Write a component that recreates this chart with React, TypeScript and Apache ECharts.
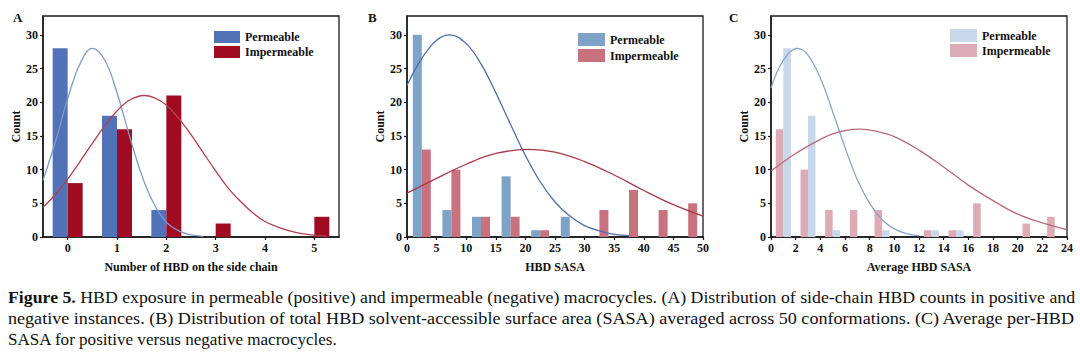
import React, { useEffect, useRef } from "react";
import * as echarts from "echarts";

// ---------- Data ----------
// Panel A: Number of HBD on the side chain
const A_BINS = [0, 1, 2, 3, 4, 5];
const A_PERM = [28, 18, 4, 0, 0, 0];
const A_IMP = [8, 16, 21, 2, 0, 3];
const A_PERM_FIT_X = [-0.5, -0.25, 0, 0.25, 0.5, 0.75, 1, 1.25, 1.5, 1.75, 2, 2.25, 2.5, 2.75];
const A_PERM_FIT_Y = [8.4, 14.1, 20.5, 25.7, 28.0, 26.3, 21.4, 15.1, 9.2, 4.9, 2.2, 0.9, 0.3, 0.1];
const A_IMP_FIT_X = [-0.5, -0.25, 0, 0.25, 0.5, 0.75, 1, 1.25, 1.55, 1.75, 2, 2.25, 2.5, 2.75, 3, 3.25, 3.5, 3.75, 4, 4.25, 4.5, 4.75, 5, 5.25];
const A_IMP_FIT_Y = [4.4, 6.3, 8.6, 11.2, 13.9, 16.5, 18.7, 20.3, 21.0, 20.7, 19.6, 17.6, 15.2, 12.5, 9.8, 7.3, 5.3, 3.6, 2.3, 1.5, 0.9, 0.5, 0.27, 0.14];

// Panel B: HBD SASA (bin centres)
const B_BINS = [2.5, 7.5, 12.5, 17.5, 22.5, 27.5, 32.5, 37.5, 42.5, 47.5];
const B_PERM = [30, 4, 3, 9, 1, 3, 0, 0, 0, 0];
const B_IMP = [13, 10, 3, 3, 1, 0, 4, 7, 4, 5];
const B_PERM_FIT_X = [0, 2.5, 5, 7.2, 10, 12.5, 15, 17.5, 20, 22.5, 25, 27.5, 30, 32.5, 35, 37.5];
const B_PERM_FIT_Y = [22.5, 26.5, 29.2, 30.0, 28.7, 25.7, 21.4, 16.7, 12.1, 8.2, 5.2, 3.1, 1.7, 0.9, 0.4, 0.2];
const B_IMP_FIT_X = [0, 5, 10, 15, 20.5, 25, 30, 35, 40, 45, 50];
const B_IMP_FIT_Y = [6.5, 8.7, 10.8, 12.4, 13.0, 12.6, 11.2, 9.2, 6.9, 4.8, 3.1];

// Panel C: Average HBD SASA (bin centres)
const C_BINS = [1, 3, 5, 7, 9, 11, 13, 15, 17, 19, 21, 23];
const C_PERM = [28, 18, 1, 0, 1, 0, 1, 1, 0, 0, 0, 0];
const C_IMP = [16, 10, 4, 4, 4, 0, 1, 1, 5, 0, 2, 3];
const C_PERM_FIT_X = [0, 1, 2.15, 3, 4, 5, 6, 7, 8, 9, 10, 11, 12];
const C_PERM_FIT_Y = [22.1, 26.2, 28.0, 27.0, 23.6, 18.6, 13.3, 8.5, 5.0, 2.6, 1.2, 0.5, 0.2];
const C_IMP_FIT_X = [0, 2, 4, 5, 6, 7.2, 8.5, 10, 12, 14, 16, 18, 20, 22, 24];
const C_IMP_FIT_Y = [9.8, 12.4, 14.5, 15.3, 15.8, 16.0, 15.7, 14.9, 12.9, 10.4, 7.7, 5.4, 3.4, 2.1, 1.1];

const Y_TICKS = [0, 5, 10, 15, 20, 25, 30];
const A_X_TICKS = [0, 1, 2, 3, 4, 5];

const PANEL_LETTERS = ["A", "B", "C"];
const X_TITLES = ["Number of HBD on the side chain", "HBD SASA", "Average HBD SASA"];
const Y_TITLE = "Count";
const SERIES_NAMES = ["Permeable", "Impermeable"];

const CAPTION_BOLD = "Figure 5.";
const CAPTION_LINES = [
  "HBD exposure in permeable (positive) and impermeable (negative) macrocycles. (A) Distribution of side-chain HBD counts in positive and",
  "negative instances. (B) Distribution of total HBD solvent-accessible surface area (SASA) averaged across 50 conformations. (C) Average per-HBD",
  "SASA for positive versus negative macrocycles.",
];

// ---------- Styles ----------
const SERIF = "'Liberation Serif', 'Times New Roman', serif";
const COLORS = {
  A: { perm: "#5272b8", imp: "#a00b22", permFit: "#7f9cc8", impFit: "#b0404f" },
  B: { perm: "#7ea3c6", imp: "#c9727f", permFit: "#4d6ea8", impFit: "#a83848" },
  C: { perm: "#c8d7ea", imp: "#dcabb5", permFit: "#8aa4c8", impFit: "#b56b78" },
};

const zip = (xs: number[], ys: number[]) => xs.map((x, i) => [x, ys[i]]);

function measure(text: string, font: string): number {
  const ctx = document.createElement("canvas").getContext("2d");
  if (!ctx) return text.length * 7;
  ctx.font = font;
  return ctx.measureText(text).width;
}

export default function App() {
  const ref = useRef<HTMLDivElement>(null);

  useEffect(() => {
    if (!ref.current) return;
    const chart = echarts.init(ref.current, null, { renderer: "svg" });

    const grids = [
      { left: 43, top: 16, width: 296, height: 221 },
      { left: 407, top: 16, width: 296, height: 221 },
      { left: 771, top: 16, width: 296, height: 221 },
    ].map((g) => ({ ...g, show: true, borderColor: "#1a1a1a", borderWidth: 1.3, backgroundColor: "#fff" }));

    const axisCommon = {
      axisLine: { show: true, onZero: false, lineStyle: { color: "#1a1a1a", width: 1.5 } },
      axisTick: { show: true, inside: false, length: 3, lineStyle: { color: "#1a1a1a", width: 1.2 } },
      splitLine: { show: false },
      axisLabel: { color: "#111", fontFamily: SERIF, fontWeight: "bold" as const, fontSize: 12, margin: 5 },
      nameTextStyle: { color: "#111", fontFamily: SERIF, fontWeight: "bold" as const, fontSize: 12 },
    };

    const xRanges = [
      { min: -0.5, max: 5.5, interval: 1, custom: A_X_TICKS },
      { min: 0, max: 50, interval: 5, custom: null },
      { min: 0, max: 24, interval: 2, custom: null },
    ];

    const xAxis = xRanges.map((r, i) => ({
      type: "value" as const,
      gridIndex: i,
      min: r.min,
      max: r.max,
      interval: r.interval,
      name: X_TITLES[i],
      nameLocation: "middle" as const,
      nameGap: 24,
      ...axisCommon,
      axisTick: { ...axisCommon.axisTick, ...(r.custom ? { customValues: r.custom } : {}) },
      axisLabel: { ...axisCommon.axisLabel, ...(r.custom ? { customValues: r.custom } : {}) },
    }));

    const yAxis = [0, 1, 2].map((i) => ({
      type: "value" as const,
      gridIndex: i,
      min: 0,
      max: 32.8,
      interval: 5,
      name: Y_TITLE,
      nameLocation: "middle" as const,
      nameGap: 20,
      ...axisCommon,
      axisTick: { ...axisCommon.axisTick, customValues: Y_TICKS },
      axisLabel: {
        ...axisCommon.axisLabel,
        customValues: Y_TICKS,
        formatter: (v: number) => (v % 5 === 0 ? String(v) : ""),
      },
    }));

    const bar = (name: string, idx: number, xs: number[], ys: number[], color: string, width: number) => ({
      type: "bar" as const,
      name,
      xAxisIndex: idx,
      yAxisIndex: idx,
      data: zip(xs, ys),
      barWidth: width,
      barGap: "0%",
      itemStyle: { color },
      emphasis: { disabled: true },
    });
    const fit = (name: string, idx: number, xs: number[], ys: number[], color: string) => ({
      type: "line" as const,
      name,
      xAxisIndex: idx,
      yAxisIndex: idx,
      data: zip(xs, ys),
      smooth: 0.4,
      showSymbol: false,
      symbol: "none",
      lineStyle: { color, width: 1.3 },
      z: 5,
      emphasis: { disabled: true },
    });

    const series = [
      bar(SERIES_NAMES[0], 0, A_BINS, A_PERM, COLORS.A.perm, 15),
      bar(SERIES_NAMES[1], 0, A_BINS, A_IMP, COLORS.A.imp, 15),
      fit("Permeable fit A", 0, A_PERM_FIT_X, A_PERM_FIT_Y, COLORS.A.permFit),
      fit("Impermeable fit A", 0, A_IMP_FIT_X, A_IMP_FIT_Y, COLORS.A.impFit),
      bar(SERIES_NAMES[0], 1, B_BINS, B_PERM, COLORS.B.perm, 9),
      bar(SERIES_NAMES[1], 1, B_BINS, B_IMP, COLORS.B.imp, 9),
      fit("Permeable fit B", 1, B_PERM_FIT_X, B_PERM_FIT_Y, COLORS.B.permFit),
      fit("Impermeable fit B", 1, B_IMP_FIT_X, B_IMP_FIT_Y, COLORS.B.impFit),
      bar(SERIES_NAMES[1], 2, C_BINS, C_IMP, COLORS.C.imp, 7.5),
      bar(SERIES_NAMES[0], 2, C_BINS, C_PERM, COLORS.C.perm, 7.5),
      fit("Permeable fit C", 2, C_PERM_FIT_X, C_PERM_FIT_Y, COLORS.C.permFit),
      fit("Impermeable fit C", 2, C_IMP_FIT_X, C_IMP_FIT_Y, COLORS.C.impFit),
    ];

    const legendText = { color: "#111", fontFamily: SERIF, fontWeight: "bold" as const, fontSize: 12 };
    const legendPos = [
      { left: 214, top: 31, w: 26, h: 12, gap: 3, c: COLORS.A },
      { left: 578, top: 33, w: 27, h: 13, gap: 3, c: COLORS.B },
      { left: 950, top: 29, w: 27, h: 13, gap: 2, c: COLORS.C },
    ];
    const legend = legendPos.map((p) => ({
      left: p.left,
      top: p.top,
      orient: "vertical" as const,
      itemWidth: p.w,
      itemHeight: p.h,
      itemGap: p.gap,
      padding: 0,
      icon: "rect",
      selectedMode: false,
      textStyle: legendText,
      data: [
        { name: SERIES_NAMES[0], icon: "rect", itemStyle: { color: p.c.perm } },
        { name: SERIES_NAMES[1], icon: "rect", itemStyle: { color: p.c.imp } },
      ],
    }));

    // Caption
    const capSize = 16;
    const boldFont = `bold ${capSize}px ${SERIF}`;
    const normFont = `${capSize}px ${SERIF}`;
    const boldW = measure(CAPTION_BOLD + " ", boldFont);
    const lineTargets = [1067, 1067, 330];
    const baselines = [303, 324, 345];
    const captionEls = CAPTION_LINES.map((line, i) => {
      const first = i === 0;
      const natural = (first ? boldW : 0) + measure(line, normFont);
      const sx = lineTargets[i] / natural;
      const children: any[] = [];
      if (first) {
        children.push({
          type: "text",
          x: 0,
          y: 0,
          style: { text: CAPTION_BOLD, font: boldFont, fill: "#111", verticalAlign: "middle", align: "left" },
        });
      }
      children.push({
        type: "text",
        x: first ? boldW : 0,
        y: 0,
        style: { text: line, font: normFont, fill: "#111", verticalAlign: "middle", align: "left" },
      });
      return { type: "group", x: 8, y: baselines[i] - 5, scaleX: sx, children };
    });

    const letterX = [13, 368, 729];
    const letters = PANEL_LETTERS.map((t, i) => ({
      type: "text",
      x: letterX[i],
      y: 17,
      style: { text: t, font: `bold 13px ${SERIF}`, fill: "#111", verticalAlign: "middle", align: "left" },
    }));

    chart.setOption({
      animation: false,
      backgroundColor: "#fff",
      grid: grids,
      xAxis,
      yAxis,
      legend,
      series,
      graphic: [...letters, ...captionEls],
    });

    return () => chart.dispose();
  }, []);

  return (
    <div
      ref={ref}
      style={{ position: "fixed", left: 0, top: 0, width: 1080, height: 359, background: "#fff" }}
    />
  );
}
